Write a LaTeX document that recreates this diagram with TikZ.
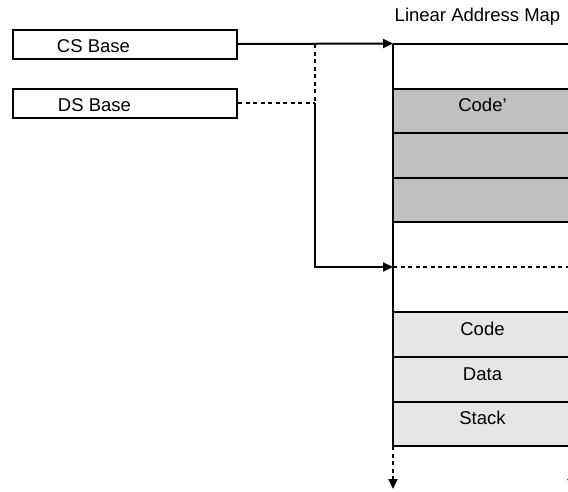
\documentclass[tikz,border=0pt]{standalone}
\usepackage{fontspec}
\setmainfont{Liberation Sans}
\usetikzlibrary{arrows.meta}
\definecolor{darkrow}{HTML}{C0C0C0}
\definecolor{lightrow}{HTML}{E6E6E6}
\tikzset{
  lbl/.style={font=\fontsize{18.5}{22}\selectfont, inner sep=0pt, anchor=base},
  basebox/.style={draw, line width=2pt, minimum width=224pt, minimum height=29pt, inner sep=0pt},
  conn/.style={line width=2pt},
  dashconn/.style={line width=2pt, dash pattern=on 4pt off 3.5pt},
  tip/.style={-{Triangle[length=10pt,width=9pt]}},
  rule/.style={line width=2pt},
}
\begin{document}
\begin{tikzpicture}[x=1pt,y=-1pt]
\useasboundingbox (0,0) rectangle (568,491);
% base boxes
\node[basebox] (cs) at (124.5,44) {};
\node[basebox] (ds) at (125,103) {};
\node[lbl] (cst) at (93.5,52.5) {CS Base};
\node[lbl] (dst) at (94.5,111.5) {DS Base};
% title
\node[lbl] (title) at (477.5,21) {Linear Address Map};
% map rows
\fill[darkrow] (393,88.5) rectangle (575,222);
\fill[lightrow] (393,312) rectangle (575,446);
\foreach \yy in {43.5,88.5,133,177.5,222,312,357,401.5,446}
  \draw[rule] (393,\yy) -- (575,\yy);
\draw[dashconn] (393,267) -- (575,267);
\node[lbl] (codep) at (482.5,111.5) {Code’};
\node[lbl] (code) at (482.5,335) {Code};
\node[lbl] (data) at (482.5,380) {Data};
\node[lbl] (stack) at (482.5,424.5) {Stack};
% coordinates
\coordinate (maptop) at (393,43.5);
\coordinate (mapmid) at (393,267);
\coordinate (mapbot) at (393,446);
\coordinate (mapend) at (393,489);
\coordinate (rbot) at (572,446);
\coordinate (rend) at (572,489);
\coordinate (j1) at (315,44);
\coordinate (j2) at (315,103);
\coordinate (j3) at (315,267);
% map left edge
\draw[rule] (maptop) -- (mapbot);
\draw[dashconn, tip] (mapbot) -- (mapend);
\draw[dashconn, tip] (rbot) -- (rend);
% connectors
\draw[conn, tip] (cs.east) -- (maptop);
\draw[dashconn] (j1) -- (j2);
\draw[dashconn] (ds.east) -- (j2);
\draw[conn, tip] (j2) -- (j3) -- (mapmid);
\end{tikzpicture}
\end{document}
